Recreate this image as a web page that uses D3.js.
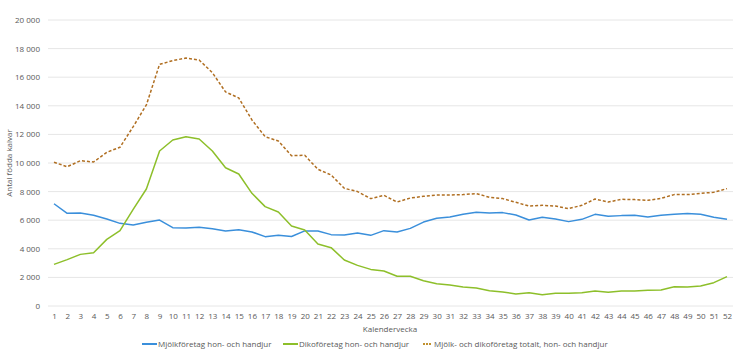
<!DOCTYPE html>
<html>
<head>
<meta charset="utf-8">
<script src="https://cdn.jsdelivr.net/npm/d3@7"></script>
<style>
  body { margin: 0; background: #fff; }
  svg text { font-family: 'Open Sans', sans-serif; fill: #595959; }
  .axis path, .axis line { display: none; }
  .grid line { stroke: #e6e6e6; stroke-width: 1; }
</style>
</head>
<body>
<div id="chart"></div>
<script>
// veckor 1-52
const weeks = d3.range(1, 53)
const seriesNames = [
  'Mjölkföretag hon- och handjur',
  'Dikoföretag hon- och handjur',
  'Mjölk- och dikoföretag totalt, hon- och handjur'
]
const mjolk = [7150, 6480, 6500, 6340, 6080, 5780, 5660, 5850, 6010, 5480, 5450, 5500, 5410, 5250, 5340, 5180,
  4850, 4940, 4860, 5250, 5240, 4990, 4970, 5110, 4940, 5270, 5180, 5430, 5870, 6130, 6220, 6410,
  6550, 6500, 6530, 6360, 6010, 6200, 6080, 5900, 6060, 6410, 6270, 6320, 6340, 6220, 6340, 6410,
  6460, 6410, 6200, 6060]
const diko = [2910, 3240, 3610, 3730, 4660, 5270, 6760, 8180, 10840, 11610, 11840, 11680, 10840, 9670, 9230, 7880,
  6950, 6570, 5600, 5310, 4340, 4080, 3220, 2840, 2560, 2450, 2080, 2080, 1770, 1560, 1470, 1330,
  1260, 1070, 980, 840, 930, 790, 890, 890, 930, 1050, 960, 1050, 1050, 1100, 1120, 1350,
  1330, 1400, 1630, 2050]
const totalt = [10050, 9740, 10160, 10070, 10750, 11100, 12540, 14060, 16900, 17160, 17340, 17200, 16320, 14970, 14550, 13010,
  11840, 11540, 10510, 10540, 9560, 9160, 8230, 8000, 7510, 7740, 7270, 7550, 7670, 7760, 7760, 7790,
  7860, 7600, 7510, 7250, 6990, 7040, 6990, 6810, 7040, 7480, 7270, 7460, 7440, 7390, 7530, 7790,
  7790, 7880, 7950, 8210]
const yTicks = d3.range(0, 20001, 2000)

const w = 739, h = 353
const margin = { top: 20, left: 48, right: 4, bottom: 47 }
const colors = ['#3a8fdb', '#8dbf2a', '#b06f22']

let svg = d3.select('#chart').append('svg').attr('width', w).attr('height', h)

let x = d3.scalePoint().domain(weeks).range([54, 727])
let y = d3.scaleLinear().domain([0, 20000]).range([306, 20])

// grid
svg.append('g').classed('grid', true)
  .selectAll('line').data(yTicks).enter().append('line')
  .attr('x1', margin.left).attr('x2', 733)
  .attr('y1', d => y(d)).attr('y2', d => y(d))

// y axis
svg.append('g').classed('axis', true)
  .attr('transform', `translate(${margin.left}, 0)`)
  .call(d3.axisLeft(y).tickValues(yTicks).tickSize(0).tickPadding(8)
    .tickFormat(d => d3.format(',')(d).replace(',', '\u00a0')))
  .selectAll('text').style('font-size', '8px').style('font-family', "'Open Sans', sans-serif").attr('fill', '#595959')

// x axis
svg.append('g').classed('axis', true)
  .attr('transform', 'translate(0, 306)')
  .call(d3.axisBottom(x).tickSize(0).tickPadding(7))
  .selectAll('text').style('font-size', '8px').style('font-family', "'Open Sans', sans-serif").attr('fill', '#595959')

// axis titles
svg.append('text').text('Kalendervecka')
  .attr('x', 390).attr('y', 332).attr('text-anchor', 'middle').style('font-size', '8px')
svg.append('text').text('Antal födda kalvar')
  .attr('transform', 'translate(12, 163) rotate(-90)')
  .attr('text-anchor', 'middle').style('font-size', '8px')

// lines
let line = d3.line().x((d, i) => x(weeks[i])).y(d => y(d))
const allSeries = [mjolk, diko, totalt]
svg.selectAll('.series').data(allSeries).enter().append('path').classed('series', true)
  .attr('d', d => line(d))
  .attr('fill', 'none')
  .attr('stroke', (d, i) => colors[i])
  .attr('stroke-width', 1.5)
  .attr('stroke-dasharray', (d, i) => i === 2 ? '3,2' : null)
  .attr('stroke-linejoin', 'round')

// legend
const legendX = [142, 283, 423]
let legends = svg.selectAll('.legend').data(seriesNames).enter().append('g').classed('legend', true)
  .attr('transform', (d, i) => `translate(${legendX[i]}, 344)`)
legends.append('line')
  .attr('x1', 0).attr('x2', (d, i) => i === 2 ? 8 : 15).attr('y1', 0).attr('y2', 0)
  .attr('stroke', (d, i) => i === 2 ? '#c0912f' : colors[i])
  .attr('stroke-width', 2)
  .attr('stroke-dasharray', (d, i) => i === 2 ? '2,1' : null)
legends.append('text').text(d => d)
  .attr('x', (d, i) => i === 2 ? 11 : 16).attr('y', 3).style('font-size', '8px')
</script>
</body>
</html>
